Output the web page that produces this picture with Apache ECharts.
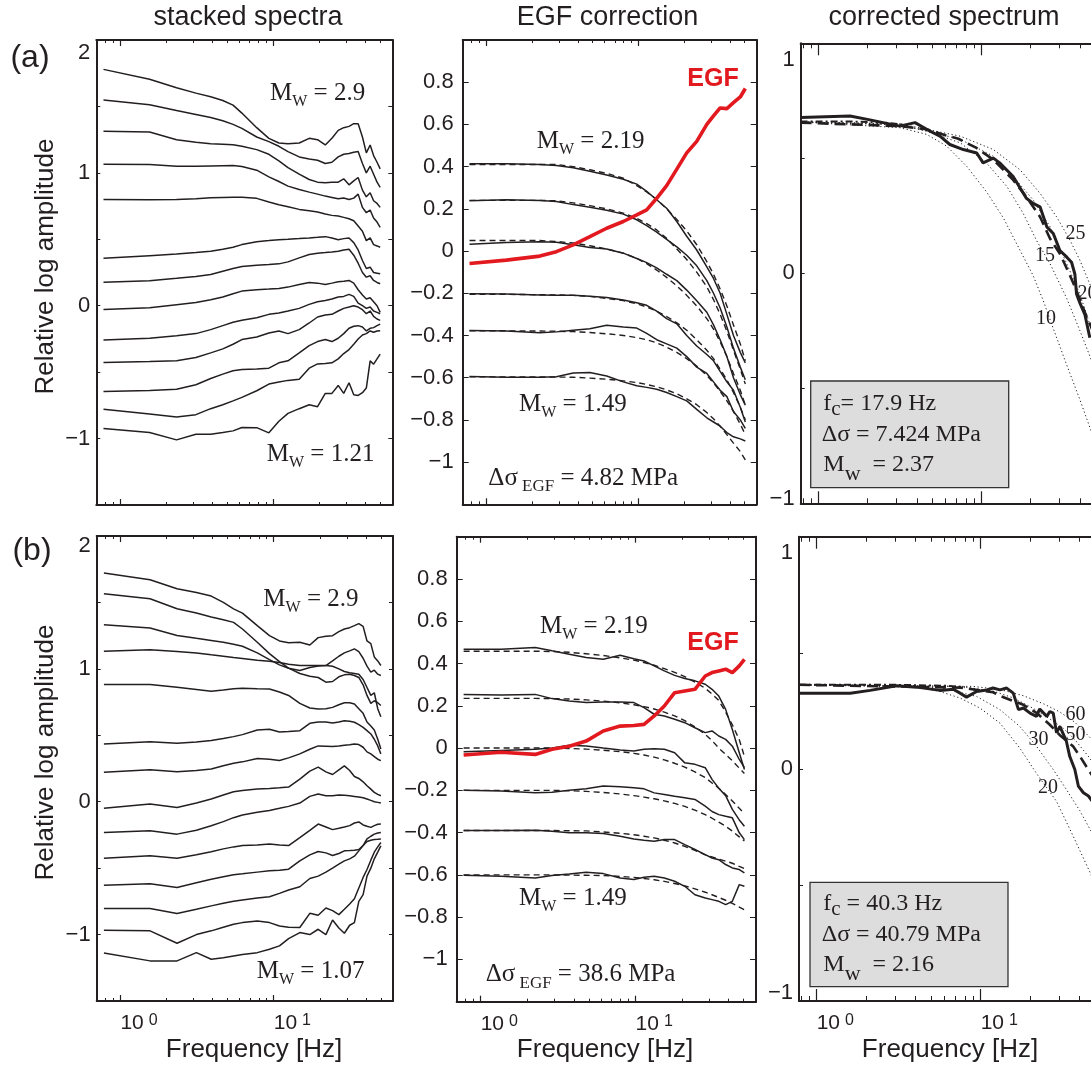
<!DOCTYPE html>
<html>
<head>
<meta charset="utf-8">
<title>Spectral ratio EGF correction</title>
<script src="https://cdn.jsdelivr.net/npm/echarts@6.0.0/dist/echarts.min.js"></script>
<style>
  html, body { margin: 0; padding: 0; background: #fff; }
  #chart { width: 1091px; height: 1067px; }
</style>
</head>
<body>
<div id="chart"></div>
<script>
// ---------- data ----------
// frequency samples (Hz) of the stacked spectra
const stackFreq = [0.78,1.56,2.34,3.13,3.91,4.69,5.47,6.25,7.81,9.38,10.9,12.5,14.8,17.2,19.5,21.9,24.2,26.6,28.9,31.3,33.6,35.9,38.3,40.6,43.0,45.3,47.7,50.0];

// (a) stacked spectra, largest event on top
const stackedA = [
  [1.779,1.704,1.641,1.60,1.573,1.545,1.51,1.45,1.34,1.26,1.225,1.22,1.225,1.26,1.25,1.21,1.26,1.32,1.34,1.35,1.37,1.37,1.27,1.15,1.21,1.13,1.08,1.03],
  [1.548,1.513,1.470,1.44,1.417,1.392,1.365,1.335,1.27,1.235,1.20,1.16,1.12,1.105,1.095,1.07,1.08,1.12,1.14,1.145,1.155,1.16,1.07,1.00,1.05,0.99,0.93,0.89],
  [1.314,1.307,1.249,1.23,1.22,1.215,1.211,1.20,1.175,1.14,1.09,1.04,0.99,0.95,0.93,0.925,0.93,0.93,0.955,0.91,0.94,0.965,0.87,0.82,0.85,0.79,0.77,0.74],
  [1.065,1.063,1.05,1.05,1.052,1.054,1.055,1.048,1.02,0.97,0.935,0.90,0.875,0.855,0.84,0.825,0.815,0.805,0.81,0.80,0.81,0.84,0.74,0.70,0.72,0.66,0.63,0.59],
  [0.799,0.797,0.799,0.805,0.812,0.815,0.817,0.817,0.808,0.78,0.76,0.745,0.725,0.715,0.705,0.69,0.68,0.675,0.665,0.655,0.64,0.60,0.56,0.49,0.51,0.46,0.45,0.44],
  [0.357,0.377,0.389,0.40,0.41,0.425,0.44,0.46,0.482,0.49,0.497,0.50,0.505,0.51,0.515,0.52,0.51,0.497,0.505,0.51,0.475,0.42,0.34,0.28,0.29,0.25,0.245,0.24],
  [0.176,0.188,0.206,0.22,0.235,0.26,0.28,0.295,0.305,0.31,0.315,0.33,0.36,0.385,0.395,0.40,0.405,0.41,0.42,0.425,0.38,0.32,0.25,0.215,0.225,0.19,0.175,0.165],
  [-0.028,-0.015,0.008,0.025,0.045,0.065,0.09,0.11,0.12,0.125,0.13,0.14,0.16,0.175,0.17,0.16,0.17,0.18,0.185,0.19,0.17,0.12,0.08,0.05,0.06,0.03,0.0,-0.05],
  [-0.259,-0.245,-0.226,-0.21,-0.18,-0.15,-0.125,-0.11,-0.09,-0.065,-0.055,-0.04,-0.02,0.01,0.03,0.04,0.05,0.065,0.07,0.085,0.07,0.02,0.0,-0.02,-0.01,-0.04,-0.05,-0.06],
  [-0.427,-0.42,-0.415,-0.39,-0.355,-0.325,-0.29,-0.255,-0.235,-0.205,-0.19,-0.21,-0.18,-0.13,-0.085,-0.07,-0.065,-0.04,-0.02,-0.01,0.0,-0.01,-0.03,-0.06,-0.04,-0.08,-0.1,-0.11],
  [-0.646,-0.638,-0.628,-0.595,-0.548,-0.515,-0.49,-0.48,-0.477,-0.47,-0.43,-0.415,-0.355,-0.30,-0.27,-0.255,-0.27,-0.245,-0.21,-0.17,-0.155,-0.15,-0.16,-0.19,-0.17,-0.165,-0.15,-0.138],
  [-0.779,-0.815,-0.837,-0.82,-0.775,-0.745,-0.716,-0.69,-0.64,-0.59,-0.575,-0.562,-0.553,-0.47,-0.438,-0.435,-0.43,-0.40,-0.36,-0.33,-0.29,-0.25,-0.22,-0.21,-0.19,-0.2,-0.19,-0.188],
  [-0.925,-0.955,-1.01,-0.967,-0.967,-0.955,-0.942,-0.917,-0.918,-0.957,-0.87,-0.81,-0.775,-0.745,-0.76,-0.66,-0.66,-0.60,-0.66,-0.58,-0.67,-0.675,-0.655,-0.62,-0.415,-0.44,-0.40,-0.364]
];

// (b) stacked spectra
const stackedB = [
  [1.721,1.671,1.603,1.575,1.548,1.50,1.452,1.42,1.325,1.25,1.21,1.196,1.20,1.18,1.235,1.245,1.25,1.28,1.30,1.31,1.325,1.34,1.32,1.21,1.19,1.09,1.06,1.025],
  [1.565,1.528,1.452,1.42,1.39,1.37,1.35,1.30,1.20,1.115,1.055,1.005,0.988,1.01,1.022,1.025,1.06,1.095,1.12,1.135,1.15,1.13,1.08,1.02,0.975,0.99,0.96,0.95],
  [1.332,1.307,1.251,1.23,1.214,1.20,1.185,1.17,1.12,1.07,1.03,1.005,0.965,0.945,0.935,0.90,0.905,0.94,0.955,0.96,0.95,0.935,0.88,0.80,0.74,0.76,0.745,0.724],
  [1.133,1.143,1.131,1.12,1.106,1.095,1.085,1.078,1.065,1.057,1.048,1.035,1.025,1.025,1.025,1.025,1.02,1.0,0.98,0.97,0.965,0.96,0.92,0.86,0.80,0.82,0.70,0.64],
  [0.882,0.882,0.862,0.845,0.832,0.84,0.85,0.854,0.85,0.849,0.826,0.80,0.74,0.705,0.698,0.70,0.71,0.73,0.745,0.745,0.735,0.70,0.665,0.60,0.57,0.54,0.47,0.397],
  [0.435,0.452,0.44,0.45,0.46,0.475,0.49,0.505,0.54,0.545,0.525,0.528,0.535,0.59,0.60,0.60,0.593,0.60,0.61,0.605,0.598,0.58,0.56,0.535,0.51,0.47,0.42,0.36],
  [0.221,0.241,0.226,0.235,0.246,0.27,0.29,0.30,0.325,0.32,0.31,0.33,0.36,0.395,0.42,0.418,0.415,0.42,0.425,0.428,0.435,0.43,0.41,0.375,0.36,0.34,0.32,0.309],
  [-0.05,-0.018,-0.043,-0.01,0.02,0.05,0.075,0.085,0.095,0.10,0.105,0.11,0.17,0.23,0.26,0.225,0.205,0.24,0.27,0.235,0.19,0.175,0.15,0.12,0.095,0.07,0.055,0.045],
  [-0.231,-0.219,-0.244,-0.215,-0.181,-0.15,-0.12,-0.1,-0.08,-0.066,-0.05,-0.035,-0.01,0.04,0.058,0.045,0.045,0.05,0.048,0.045,0.04,0.035,0.03,0.02,0.01,0.0,-0.005,-0.01],
  [-0.425,-0.407,-0.425,-0.40,-0.377,-0.355,-0.34,-0.33,-0.325,-0.319,-0.325,-0.33,-0.27,-0.215,-0.168,-0.19,-0.21,-0.2,-0.19,-0.18,-0.16,-0.152,-0.175,-0.185,-0.193,-0.18,-0.17,-0.168],
  [-0.628,-0.618,-0.646,-0.61,-0.583,-0.565,-0.55,-0.543,-0.53,-0.52,-0.515,-0.508,-0.445,-0.40,-0.375,-0.385,-0.405,-0.39,-0.37,-0.368,-0.365,-0.36,-0.33,-0.28,-0.26,-0.244,-0.235,-0.231],
  [-0.804,-0.804,-0.842,-0.81,-0.784,-0.765,-0.75,-0.74,-0.725,-0.715,-0.69,-0.665,-0.64,-0.578,-0.56,-0.53,-0.5,-0.47,-0.445,-0.43,-0.41,-0.37,-0.33,-0.30,-0.29,-0.285,-0.283,-0.281],
  [-0.967,-0.972,-1.065,-1.0,-0.972,-0.945,-0.922,-0.91,-0.897,-0.91,-0.935,-0.945,-0.947,-0.84,-0.855,-0.80,-0.82,-0.85,-0.81,-0.77,-0.73,-0.65,-0.57,-0.51,-0.44,-0.38,-0.34,-0.307],
  [-1.138,-1.198,-1.198,-1.136,-1.186,-1.175,-1.161,-1.15,-1.136,-1.11,-1.085,-1.03,-0.985,-1.0,-0.96,-1.0,-0.89,-0.95,-0.99,-0.93,-0.91,-0.75,-0.70,-0.56,-0.50,-0.43,-0.38,-0.332]
];

// frequency samples (Hz) of the spectral ratios
const ratioFreq = [0.776,1.355,2.25,2.89,3.73,4.80,6.19,7.96,9.76,11.35,13.2,15.35,17.9,20.8,24.2,28.2,31.2,34.5,38.2,42.2,46.8,50.5];

// (a) observed spectral ratios (solid) and fitted models (dashed)
const ratioObsA = [
  [0.414,0.414,0.410,0.405,0.395,0.378,0.360,0.340,0.317,0.283,0.243,0.203,0.140,0.07,0.005,-0.075,-0.13,-0.20,-0.30,-0.40,-0.48,-0.53],
  [0.238,0.243,0.240,0.235,0.220,0.208,0.193,0.175,0.148,0.12,0.09,0.055,0.02,-0.02,-0.07,-0.14,-0.20,-0.27,-0.36,-0.46,-0.55,-0.61],
  [0.032,0.041,0.044,0.042,0.030,0.017,0.01,-0.01,-0.035,-0.055,-0.08,-0.11,-0.14,-0.185,-0.235,-0.29,-0.35,-0.42,-0.50,-0.60,-0.68,-0.73],
  [-0.202,-0.204,-0.208,-0.21,-0.21,-0.214,-0.22,-0.232,-0.245,-0.257,-0.285,-0.32,-0.345,-0.40,-0.45,-0.49,-0.52,-0.57,-0.62,-0.66,-0.74,-0.81],
  [-0.376,-0.379,-0.387,-0.383,-0.375,-0.368,-0.352,-0.36,-0.365,-0.39,-0.42,-0.44,-0.46,-0.50,-0.55,-0.58,-0.62,-0.66,-0.69,-0.76,-0.80,-0.84],
  [-0.594,-0.598,-0.598,-0.596,-0.578,-0.575,-0.592,-0.620,-0.638,-0.646,-0.655,-0.67,-0.69,-0.71,-0.75,-0.79,-0.81,-0.83,-0.86,-0.88,-0.89,-0.90]
];
const ratioFitA = [
  [0.41,0.41,0.41,0.41,0.40,0.385,0.368,0.345,0.31,0.28,0.245,0.20,0.15,0.095,0.03,-0.05,-0.11,-0.18,-0.26,-0.35,-0.44,-0.52],
  [0.24,0.24,0.24,0.238,0.228,0.215,0.20,0.18,0.155,0.13,0.10,0.06,0.01,-0.04,-0.10,-0.17,-0.23,-0.30,-0.38,-0.47,-0.56,-0.63],
  [0.05,0.05,0.05,0.045,0.038,0.025,0.01,-0.01,-0.035,-0.06,-0.09,-0.125,-0.165,-0.21,-0.26,-0.32,-0.37,-0.43,-0.50,-0.58,-0.66,-0.73],
  [-0.205,-0.205,-0.207,-0.208,-0.21,-0.215,-0.225,-0.235,-0.25,-0.265,-0.285,-0.31,-0.34,-0.375,-0.42,-0.47,-0.51,-0.56,-0.61,-0.67,-0.74,-0.80],
  [-0.378,-0.378,-0.379,-0.38,-0.382,-0.386,-0.392,-0.40,-0.41,-0.42,-0.435,-0.455,-0.48,-0.51,-0.545,-0.59,-0.625,-0.665,-0.71,-0.76,-0.82,-0.87],
  [-0.596,-0.596,-0.597,-0.597,-0.598,-0.602,-0.607,-0.615,-0.623,-0.632,-0.643,-0.658,-0.676,-0.70,-0.728,-0.765,-0.795,-0.83,-0.87,-0.91,-0.95,-0.99]
];
const egfA = [-0.059,-0.043,-0.024,-0.003,0.029,0.068,0.108,0.14,0.171,0.195,0.25,0.31,0.388,0.465,0.52,0.60,0.64,0.678,0.675,0.703,0.73,0.77];

// (b) observed spectral ratios and fitted models
const ratioObsB = [
  [0.468,0.468,0.476,0.46,0.444,0.428,0.420,0.439,0.423,0.412,0.389,0.365,0.344,0.329,0.318,0.302,0.278,0.246,0.183,0.088,-0.022,-0.101],
  [0.254,0.251,0.254,0.234,0.223,0.215,0.218,0.218,0.215,0.191,0.16,0.152,0.136,0.12,0.096,0.073,0.081,0.057,0.041,0.009,-0.054,-0.093],
  [-0.017,-0.011,-0.006,0.0,0.013,0.01,0.0,-0.009,-0.014,-0.006,-0.003,-0.006,-0.022,-0.07,-0.077,-0.093,-0.148,-0.19,-0.225,-0.29,-0.34,-0.37],
  [-0.2,-0.203,-0.212,-0.209,-0.2,-0.193,-0.18,-0.183,-0.188,-0.193,-0.212,-0.22,-0.228,-0.235,-0.243,-0.275,-0.3,-0.315,-0.323,-0.33,-0.401,-0.433],
  [-0.39,-0.39,-0.389,-0.393,-0.401,-0.401,-0.404,-0.417,-0.43,-0.436,-0.441,-0.433,-0.433,-0.457,-0.48,-0.504,-0.52,-0.528,-0.551,-0.567,-0.575,-0.591],
  [-0.602,-0.607,-0.615,-0.603,-0.596,-0.587,-0.594,-0.615,-0.622,-0.611,-0.607,-0.615,-0.63,-0.654,-0.694,-0.709,-0.717,-0.725,-0.741,-0.725,-0.646,-0.654]
];
const ratioFitB = [
  [0.458,0.458,0.458,0.457,0.453,0.446,0.438,0.427,0.416,0.405,0.392,0.376,0.358,0.338,0.312,0.283,0.256,0.225,0.17,0.11,0.04,-0.04],
  [0.235,0.235,0.235,0.234,0.232,0.228,0.222,0.214,0.205,0.196,0.185,0.17,0.152,0.13,0.1,0.065,0.035,0.0,-0.03,-0.06,-0.095,-0.12],
  [0.0,0.0,0.0,0.0,-0.002,-0.005,-0.01,-0.017,-0.025,-0.033,-0.043,-0.056,-0.072,-0.09,-0.113,-0.14,-0.165,-0.19,-0.22,-0.25,-0.285,-0.31],
  [-0.2,-0.2,-0.2,-0.2,-0.202,-0.205,-0.21,-0.217,-0.225,-0.232,-0.24,-0.25,-0.262,-0.276,-0.294,-0.315,-0.332,-0.35,-0.37,-0.393,-0.42,-0.44],
  [-0.39,-0.39,-0.39,-0.39,-0.391,-0.392,-0.397,-0.403,-0.41,-0.417,-0.425,-0.436,-0.449,-0.465,-0.484,-0.505,-0.515,-0.525,-0.535,-0.545,-0.56,-0.57],
  [-0.6,-0.6,-0.6,-0.6,-0.601,-0.602,-0.603,-0.607,-0.612,-0.617,-0.623,-0.631,-0.641,-0.652,-0.666,-0.682,-0.694,-0.707,-0.72,-0.735,-0.752,-0.765]
];
const egfB = [-0.033,-0.02,-0.03,-0.006,0.009,0.033,0.081,0.104,0.107,0.112,0.152,0.199,0.262,0.27,0.278,0.341,0.357,0.365,0.373,0.357,0.389,0.42];

// (a) corrected spectrum, [Hz, log amplitude]
const correctedA = [[0.775,0.677],[1.557,0.684],[2.065,0.667],[3.15,0.640],[3.90,0.655],[4.60,0.626],[5.55,0.596],[6.38,0.560],[7.72,0.538],[9.33,0.523],[10.2,0.480],[11.8,0.501],[12.9,0.480],[15.6,0.421],[18.8,0.326],[20.7,0.304],[22.8,0.289],[25.1,0.202],[27.5,0.173],[30.2,0.099],[33.3,0.070],[35.6,0.048],[37.3,-0.003],[38.2,-0.09],[40.1,-0.13],[43.0,-0.18],[46.1,-0.28]];
const bestFitA = [[0.775,0.655],[3.15,0.64],[4.6,0.626],[6.0,0.60],[7.2,0.585],[9.3,0.545],[11.8,0.494],[15.6,0.406],[18.8,0.333],[22.8,0.246],[26.3,0.15],[30.2,0.085],[34.5,-0.003],[38.2,-0.076],[43,-0.17],[48,-0.25]];
const plateauA = [[0.775,0.66],[1.6,0.66],[2.5,0.655],[3.5,0.645]];
const model10A = [[0.775,0.658],[3.15,0.633],[4.6,0.604],[6.1,0.553],[8.1,0.465],[10.7,0.355],[13.6,0.24],[17.2,0.10],[20.7,-0.01],[23.9,-0.12],[27.5,-0.24],[33.3,-0.40],[40.1,-0.55],[46.1,-0.67],[50,-0.74]];
const model15A = [[0.775,0.658],[3.15,0.645],[4.6,0.618],[7.4,0.567],[10.7,0.48],[14.3,0.377],[18.0,0.26],[21.7,0.143],[26.3,0.041],[30.2,-0.047],[33.3,-0.11],[40.1,-0.25],[46.1,-0.36],[50,-0.43]];
const model20A = [[0.775,0.658],[3.15,0.648],[7.4,0.582],[11.8,0.509],[15.6,0.421],[20.7,0.319],[26.3,0.202],[33.3,0.041],[40.1,-0.091],[46.1,-0.222],[50,-0.28]];
const model25A = [[0.775,0.658],[3.15,0.65],[7.4,0.596],[11.8,0.538],[17.2,0.45],[22.8,0.348],[28.8,0.246],[34.9,0.143],[40.1,0.056],[46.1,-0.047],[50,-0.1]];

// (b) corrected spectrum
const correctedB = [[0.78,0.326],[1.6,0.326],[2.12,0.338],[3.07,0.358],[4.07,0.352],[5.65,0.338],[6.81,0.343],[7.49,0.326],[8.2,0.309],[9.44,0.333],[10.9,0.34],[11.9,0.348],[13.1,0.34],[14.4,0.348],[15.8,0.326],[17.0,0.255],[18.2,0.262],[20.0,0.24],[21.9,0.226],[22.9,0.258],[25.3,0.226],[26.4,0.247],[27.7,0.24],[29.0,0.155],[30.4,0.183],[33.3,0.119],[34.9,0.054],[37.5,-0.003],[39.4,-0.074],[42.3,-0.103],[45.4,-0.117],[48,-0.14]];
const bestFitB = [[0.78,0.362],[7.5,0.35],[11.9,0.33],[13.1,0.314],[18.2,0.276],[22,0.24],[26.4,0.19],[30.4,0.145],[36.6,0.097],[40.2,0.055],[44,0.011],[48,-0.03]];
const plateauB = [[0.78,0.362],[3,0.362],[6,0.358],[8,0.352]];
const model20B = [[0.78,0.362],[4,0.355],[5.65,0.333],[7.49,0.305],[9.9,0.262],[13.1,0.197],[17.3,0.09],[21.9,-0.02],[29.0,-0.14],[36.6,-0.289],[46.4,-0.446],[50,-0.5]];
const model30B = [[0.78,0.362],[5.65,0.35],[9.44,0.312],[13.1,0.255],[17.3,0.183],[21.9,0.097],[27.7,-0.003],[33.3,-0.089],[40.2,-0.18],[46.4,-0.26],[50,-0.3]];
const model50B = [[0.78,0.362],[7.5,0.355],[11.9,0.335],[15.9,0.305],[21,0.26],[26.4,0.215],[31.9,0.175],[37.6,0.125],[46.4,0.045],[50,0.01]];
const model60B = [[0.78,0.362],[9,0.355],[13.1,0.342],[18.2,0.315],[24.2,0.28],[30.4,0.245],[37.6,0.20],[46.4,0.135],[50,0.11]];

// log-axis tick positions (Hz)
const minorTickFreq = [0.7,0.8,0.9,2,3,4,5,6,7,8,9,20,30,40,50,60];
const majorTickFreq = [1,10];

// ---------- styling ----------
const SANS = '"Liberation Sans", Arial, Helvetica, sans-serif';
const SERIF = '"Liberation Serif", "Times New Roman", Times, serif';
const INK = '#231f20';
const RED = '#e2191f';

const option = {
  animation: false,
  backgroundColor: '#ffffff',
  grid: [], xAxis: [], yAxis: [], series: [], graphic: []
};

const minus = r => String(r).replace('-', '\u2212');

function stackFmt(max) {
  return v => {
    const r = Math.round(v * 100) / 100;
    if (Math.abs(r - Math.round(r)) > 1e-6) return '';
    const s = minus(Math.round(r));
    return Math.abs(r - max) < 1e-6 ? '{top|' + s + '}' : s;
  };
}
function ratioFmt(v) {
  const r = Math.round(v * 10) / 10;
  if (r > 0.95 || r < -1.15) return '';
  return minus(r === 0 ? 0 : r);
}
function corrFmt(v) {
  const r = Math.round(v * 100) / 100;
  if (Math.abs(r - Math.round(r)) > 1e-6) return '';
  if (r === 1) return '{top|1}';
  if (r === -1) return '{bot|\u22121}';
  return '0';
}
const labelTok = pad => ({ fontFamily: SANS, fontSize: 22, color: INK, padding: pad });

function addPanel(p) {
  const gi = option.grid.length;
  option.grid.push({ left: p.left, top: p.top, width: p.width, height: p.height,
    containLabel: false, outerBoundsMode: 'none', show: false });

  // data axis: logarithmic frequency
  const xi = option.xAxis.length;
  option.xAxis.push({ gridIndex: gi, type: 'log', logBase: 10, min: p.xmin, max: p.xmax, show: false });

  // tick-only axes on a log10 scale, bottom and top of the frame
  const l0 = Math.log10(p.xmin), l1 = Math.log10(p.xmax);
  const minorT = minorTickFreq.filter(f => f >= p.xmin - 1e-9 && f <= p.xmax + 1e-9).map(f => Math.log10(f));
  const majorT = majorTickFreq.map(f => Math.log10(f));
  ['bottom', 'top'].forEach(pos => {
    option.xAxis.push({ gridIndex: gi, type: 'value', position: pos, min: l0, max: l1, silent: true,
      axisLine: { show: true, onZero: false, lineStyle: { color: INK, width: 2 } },
      axisTick: { show: true, inside: true, length: p.minorLen, customValues: minorT, lineStyle: { color: INK, width: 1 } },
      axisLabel: { show: false }, splitLine: { show: false } });
    const withLabels = pos === 'bottom' && p.xLabels;
    option.xAxis.push({ gridIndex: gi, type: 'value', position: pos, min: l0, max: l1, silent: true,
      axisLine: { show: false, onZero: false },
      axisTick: { show: true, inside: true, length: p.majorLen, customValues: majorT, lineStyle: { color: INK, width: 1.2 } },
      axisLabel: withLabels ? {
        show: true, customValues: majorT, margin: 12, align: 'left',
        fontFamily: SANS, fontSize: 21, color: INK,
        formatter: v => '{b|10}{s|' + Math.round(v) + '}',
        rich: {
          b: { fontFamily: SANS, fontSize: 21, lineHeight: 21, color: INK, verticalAlign: 'bottom' },
          s: { fontFamily: SANS, fontSize: 16, lineHeight: 16, color: INK, verticalAlign: 'top', padding: [0, 0, 0, 5] }
        }
      } : { show: false },
      splitLine: { show: false } });
  });

  const yi = option.yAxis.length;
  ['left', 'right'].forEach(pos => {
    option.yAxis.push({ gridIndex: gi, type: 'value', position: pos, min: p.ymin, max: p.ymax, interval: p.yint, silent: true,
      axisLine: { show: true, onZero: false, lineStyle: { color: INK, width: 2 } },
      axisTick: { show: true, inside: true, length: p.yTickLen, lineStyle: { color: INK, width: 1 } },
      axisLabel: pos === 'left' ? {
        show: true, margin: p.yMargin, color: INK, fontFamily: SANS, fontSize: 22,
        showMinLabel: true, showMaxLabel: true, formatter: p.yFmt, rich: p.yRich || {}
      } : { show: false },
      splitLine: { show: false } });
  });
  return { xi, yi };
}

function addLine(ax, data, style, z) {
  option.series.push({ type: 'line', xAxisIndex: ax.xi, yAxisIndex: ax.yi, data,
    symbol: 'none', showSymbol: false, silent: true, clip: true, z: z || 2,
    emphasis: { disabled: true }, lineStyle: style });
}
const pairs = (fs, vs) => fs.map((f, i) => [f, vs[i]]);

const thin = { color: INK, width: 1.5 };
const dashed = { color: INK, width: 1.4, type: [6, 4] };
const thick = { color: INK, width: 3 };
const longDash = { color: INK, width: 2.6, type: [11, 6] };
const dashDot = { color: INK, width: 2, type: [7, 3, 2, 3] };
const dotted = { color: INK, width: 1, type: [1.2, 2.6] };
const redLine = { color: RED, width: 3.6 };

// ---------- panels ----------
const pA1 = addPanel({ left: 96.3, top: 40, width: 296, height: 465, xmin: 0.7, xmax: 60,
  ymin: -1.5, ymax: 2, yint: 0.5, yTickLen: 4, yMargin: 6, minorLen: 3, majorLen: 6,
  yFmt: stackFmt(2), yRich: { top: labelTok([26, 0, 0, 0]) }, xLabels: false });
const pA2 = addPanel({ left: 462.7, top: 40, width: 294, height: 464.3, xmin: 0.7, xmax: 60,
  ymin: -1.2, ymax: 1, yint: 0.2, yTickLen: 6, yMargin: 9, minorLen: 3, majorLen: 6,
  yFmt: ratioFmt, xLabels: false });
const pA3 = addPanel({ left: 800.7, top: 43.3, width: 307.8, height: 460, xmin: 0.776, xmax: 60,
  ymin: -1, ymax: 1, yint: 0.5, yTickLen: 4, yMargin: 6, minorLen: 5, majorLen: 12,
  yFmt: corrFmt, yRich: { top: labelTok([33, 0, 0, 0]), bot: labelTok([0, 0, 8, 0]) }, xLabels: false });
const pB1 = addPanel({ left: 96.7, top: 536, width: 296.3, height: 465, xmin: 0.7, xmax: 60,
  ymin: -1.5, ymax: 2, yint: 0.5, yTickLen: 4, yMargin: 6, minorLen: 3, majorLen: 6,
  yFmt: stackFmt(2), yRich: { top: labelTok([20, 0, 0, 0]) }, xLabels: true });
const pB2 = addPanel({ left: 456.7, top: 536.7, width: 299.3, height: 465, xmin: 0.7, xmax: 60,
  ymin: -1.2, ymax: 1, yint: 0.2, yTickLen: 6, yMargin: 9, minorLen: 3, majorLen: 6,
  yFmt: ratioFmt, xLabels: true });
const pB3 = addPanel({ left: 799, top: 536.7, width: 309.3, height: 464.3, xmin: 0.78, xmax: 60,
  ymin: -1, ymax: 1, yint: 0.5, yTickLen: 4, yMargin: 6, minorLen: 5, majorLen: 12,
  yFmt: corrFmt, yRich: { top: labelTok([32, 0, 0, 0]), bot: labelTok([0, 0, 16, 0]) }, xLabels: true });

// stacked spectra
stackedA.forEach(vs => addLine(pA1, pairs(stackFreq, vs), thin));
stackedB.forEach(vs => addLine(pB1, pairs(stackFreq, vs), thin));

// spectral ratios, fits and the EGF
ratioFitA.forEach(vs => addLine(pA2, pairs(ratioFreq, vs), dashed));
ratioObsA.forEach(vs => addLine(pA2, pairs(ratioFreq, vs), thin));
addLine(pA2, pairs(ratioFreq, egfA), redLine, 5);
ratioFitB.forEach(vs => addLine(pB2, pairs(ratioFreq, vs), dashed));
ratioObsB.forEach(vs => addLine(pB2, pairs(ratioFreq, vs), thin));
addLine(pB2, pairs(ratioFreq, egfB), redLine, 5);

// corrected spectra with source models
[model10A, model15A, model20A, model25A].forEach(d => addLine(pA3, d, dotted));
addLine(pA3, plateauA, dashDot, 3);
addLine(pA3, bestFitA, longDash, 3);
addLine(pA3, correctedA, thick, 4);
[model20B, model30B, model50B, model60B].forEach(d => addLine(pB3, d, dotted));
addLine(pB3, plateauB, dashDot, 3);
addLine(pB3, bestFitB, longDash, 3);
addLine(pB3, correctedB, thick, 4);

// ---------- text ----------
function txt(text, x, y, fs, o) {
  o = o || {};
  return { type: 'text', x, y, rotation: o.rot || 0, silent: true, z: 100,
    style: { text, fill: o.color || INK, font: (o.weight || 'normal') + ' ' + fs + 'px ' + (o.family || SANS),
      align: o.align || 'center', verticalAlign: o.va || 'middle',
      textAlign: o.align || 'center', textVerticalAlign: o.va || 'middle' } };
}
// serif label with subscripts; segs = [[text, isSub], ...], baseline = main text baseline
function subTxt(x, baseline, segs, fs, sfs, drop) {
  const text = segs.map(s => '{' + (s[1] ? 's' : 'm') + '|' + s[0] + '}').join('');
  return { type: 'text', x, y: baseline + drop + 0.15 * fs, silent: true, z: 100,
    style: { text, fill: INK, font: fs + 'px ' + SERIF, align: 'left', verticalAlign: 'bottom',
      textAlign: 'left', textVerticalAlign: 'bottom',
      rich: {
        m: { fontFamily: SERIF, fontSize: fs, lineHeight: fs, fill: INK, verticalAlign: 'bottom', padding: [0, 0, drop, 0] },
        s: { fontFamily: SERIF, fontSize: sfs, lineHeight: sfs, fill: INK, verticalAlign: 'bottom' }
      } } };
}
function box(x, y, w, h) {
  return { type: 'rect', silent: true, z: 90, shape: { x, y, width: w, height: h },
    style: { fill: '#dddddd', stroke: '#333333', lineWidth: 1.3 } };
}

const mw = (x, b, val) => subTxt(x, b, [['M', 0], ['W', 1], [' = ' + val, 0]], 25, 16, 4);
const dsEgf = (x, b, val) => subTxt(x, b, [['\u0394\u03c3', 0], [' EGF', 1], [' = ' + val + ' MPa', 0]], 25, 17, 5);

option.graphic = [
  txt('stacked spectra', 248, 18, 27),
  txt('EGF correction', 607.5, 18, 27),
  txt('corrected spectrum', 944, 18, 27),
  txt('(a)', 30, 58, 32),
  txt('(b)', 32, 551, 32),
  txt('Relative log amplitude', 46, 266.5, 26, { rot: Math.PI / 2 }),
  txt('Relative log amplitude', 46, 752.5, 26, { rot: Math.PI / 2 }),
  txt('Frequency [Hz]', 254, 1050, 26),
  txt('Frequency [Hz]', 605, 1050, 26),
  txt('Frequency [Hz]', 950, 1050, 26),

  mw(270, 101.7, '2.9'),
  mw(266.7, 463.3, '1.21'),
  mw(263.3, 608.3, '2.9'),
  mw(256.7, 980, '1.07'),

  mw(536.7, 150, '2.19'),
  mw(519, 413.3, '1.49'),
  dsEgf(488.3, 486.7, '4.82'),
  mw(540, 635, '2.19'),
  mw(519, 906.7, '1.49'),
  dsEgf(485.7, 983.3, '38.6'),
  txt('EGF', 713, 79, 25, { weight: 'bold', color: RED }),
  txt('EGF', 713, 643, 25, { weight: 'bold', color: RED }),

  txt('25', 1075.5, 233.5, 20, { family: SERIF }),
  txt('15', 1045, 256, 20, { family: SERIF }),
  txt('20', 1087.5, 294, 20, { family: SERIF }),
  txt('10', 1046, 318.5, 20, { family: SERIF }),
  txt('60', 1075.5, 715, 20, { family: SERIF }),
  txt('50', 1075.5, 735, 20, { family: SERIF }),
  txt('30', 1038.5, 740, 20, { family: SERIF }),
  txt('20', 1048, 788, 20, { family: SERIF }),

  box(810.7, 381, 198, 106.7),
  subTxt(823.3, 411.7, [['f', 0], ['c', 1], ['= 17.9 Hz', 0]], 24, 21, 5),
  subTxt(821.7, 443.3, [['\u0394\u03c3 = 7.424 MPa', 0]], 24, 21, 0),
  subTxt(823.3, 472.7, [['M', 0], ['w', 1], ['  = 2.37', 0]], 24, 22, 9),
  box(810, 882.3, 198, 104.4),
  subTxt(823.3, 911.7, [['f', 0], ['c', 1], [' = 40.3 Hz', 0]], 24, 21, 5),
  subTxt(821.7, 943.3, [['\u0394\u03c3 = 40.79 MPa', 0]], 24, 21, 0),
  subTxt(823.3, 972.7, [['M', 0], ['w', 1], ['  = 2.16', 0]], 24, 22, 9)
];

const chart = echarts.init(document.getElementById('chart'), null, { renderer: 'canvas' });
chart.setOption(option);
</script>
</body>
</html>
